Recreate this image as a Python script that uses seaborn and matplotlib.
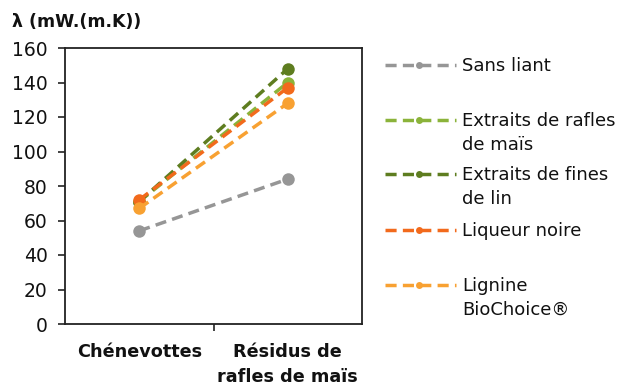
import numpy as np
import pandas as pd
import seaborn as sns
import matplotlib
matplotlib.use("Agg")
import matplotlib.pyplot as plt
from matplotlib.lines import Line2D

# Data
categories = ["Chénevottes", "Résidus de\nrafles de maïs"]
series_names = ["Sans liant", "Extraits de rafles\nde maïs", "Extraits de fines\nde lin",
                "Liqueur noire", "Lignine\nBioChoice®"]
sans_liant = [54, 84]
extraits_rafles = [71, 140]
extraits_lin = [71, 148]
liqueur_noire = [72, 137]
lignine = [67, 128]
colors = ["#969696", "#8bb33a", "#5e7d20", "#f26a1c", "#f8a132"]

values = [sans_liant, extraits_rafles, extraits_lin, liqueur_noire, lignine]
rows = []
for name, vals in zip(series_names, values):
    for i, v in enumerate(vals):
        rows.append({"serie": name, "pos": i, "val": v})
df = pd.DataFrame(rows)

sns.set_theme(style="white")
plt.rcParams["font.family"] = ["DejaVu Sans"]

DASH = (0, (3.2, 1.8))

fig = plt.figure(figsize=(6.21, 3.86), dpi=100)
ax = fig.add_axes([65 / 621, 1 - 324 / 386, (362 - 65) / 621, (324 - 48) / 386])

sns.lineplot(data=df, x="pos", y="val", hue="serie", palette=colors,
             hue_order=series_names, marker="o", markersize=9, markeredgewidth=0,
             linewidth=2.5, legend=False, ax=ax, sort=False)
for line in ax.get_lines():
    line.set_linestyle(DASH)

ax.set_xlim(-0.5, 1.5)
ax.set_ylim(0, 160)
ax.set_yticks(np.arange(0, 161, 20))
ax.set_xticks([0, 1])
ax.set_xticklabels(categories, fontweight="bold", fontsize=12.7, color="#111111",
                   linespacing=1.45)
ax.set_xticks([0.5], minor=True)
ax.tick_params(axis="x", which="major", bottom=True, length=0, pad=14)
ax.tick_params(axis="x", which="minor", bottom=True, length=5, width=1.2, direction="out",
               color="#222222")
ax.tick_params(axis="y", left=True, length=5, width=1.2, direction="out", labelsize=13.5,
               color="#222222", labelcolor="#111111", pad=7.5)
ax.set_xlabel("")
ax.set_ylabel("")
for sp in ax.spines.values():
    sp.set_color("#222222")
    sp.set_linewidth(1.3)

fig.text(12 / 621, 1 - 22 / 386, "λ (mW.(m.K))", fontsize=12.5, fontweight="bold",
         color="#111111", va="center", ha="left")

# legend drawn by hand to match the Excel layout
leg_y = [65, 120, 174, 230, 285]
for name, col, y in zip(series_names, colors, leg_y):
    yf = 1 - y / 386
    fig.add_artist(Line2D([385 / 621, 456 / 621], [yf, yf], color=col, linewidth=2.5,
                          linestyle=DASH, transform=fig.transFigure))
    fig.add_artist(Line2D([419 / 621], [yf], color=col, marker="o", markersize=5,
                          markeredgewidth=0, transform=fig.transFigure))
    fig.text(462 / 621, yf + 8 / 386, name, fontsize=13, color="#111111",
             va="top", ha="left", linespacing=1.4)

fig.savefig("out.png", dpi=100)
